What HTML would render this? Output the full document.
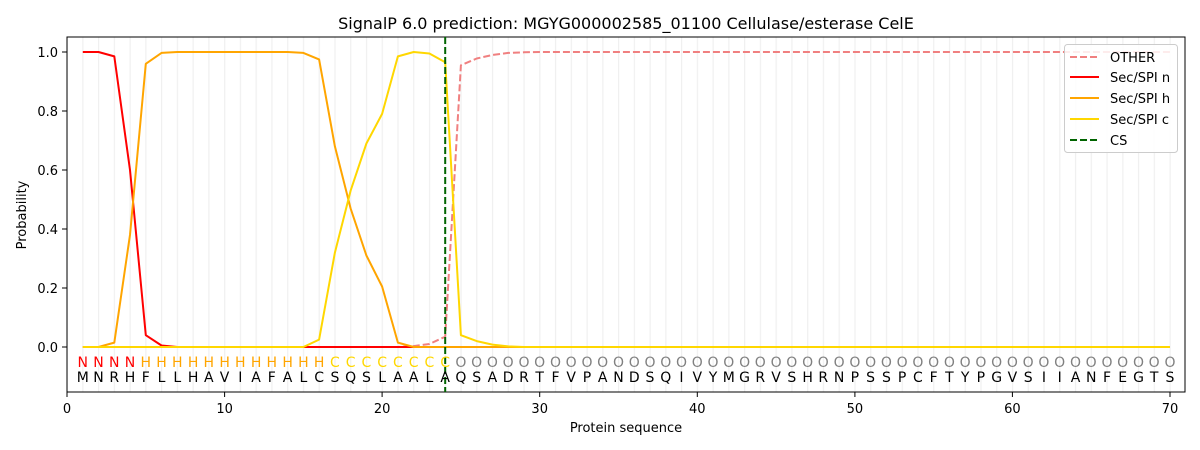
<!DOCTYPE html>
<html><head><meta charset="utf-8"><style>
html,body{margin:0;padding:0;background:#fff}
svg{display:block;font-family:"DejaVu Sans","Liberation Sans",sans-serif}
</style></head><body>
<svg width="1200" height="450" viewBox="0 0 1200 450" xmlns="http://www.w3.org/2000/svg">
<defs>
<pattern id="g" x="82.257" y="0" width="15.757" height="450" patternUnits="userSpaceOnUse">
<rect x="0" y="0" width="1.2" height="450" fill="#f0f0f0"/>
</pattern>
</defs>
<rect x="67" y="37" width="1118" height="355" fill="url(#g)"/>
<rect x="67" y="37" width="1118" height="355" fill="none" stroke="#000" stroke-width="1"/>
<text x="626" y="29" font-size="16" text-anchor="middle">SignalP 6.0 prediction: MGYG000002585_01100 Cellulase/esterase CelE</text>
<g font-size="13" text-anchor="end">
<line x1="62" x2="67" y1="347" y2="347" stroke="#000"/><text x="58" y="352">0.0</text>
<line x1="62" x2="67" y1="288" y2="288" stroke="#000"/><text x="58" y="293">0.2</text>
<line x1="62" x2="67" y1="229" y2="229" stroke="#000"/><text x="58" y="234">0.4</text>
<line x1="62" x2="67" y1="170" y2="170" stroke="#000"/><text x="58" y="175">0.6</text>
<line x1="62" x2="67" y1="111" y2="111" stroke="#000"/><text x="58" y="116">0.8</text>
<line x1="62" x2="67" y1="52" y2="52" stroke="#000"/><text x="58" y="57">1.0</text>
</g>
<text x="26" y="215" font-size="13" text-anchor="middle" transform="rotate(-90 26 215)">Probability</text>
<g font-size="13" text-anchor="middle">
<line x1="67" x2="67" y1="392" y2="397" stroke="#000"/><text x="67" y="413">0</text>
<line x1="224.6" x2="224.6" y1="392" y2="397" stroke="#000"/><text x="224.6" y="413">10</text>
<line x1="382.1" x2="382.1" y1="392" y2="397" stroke="#000"/><text x="382.1" y="413">20</text>
<line x1="539.7" x2="539.7" y1="392" y2="397" stroke="#000"/><text x="539.7" y="413">30</text>
<line x1="697.3" x2="697.3" y1="392" y2="397" stroke="#000"/><text x="697.3" y="413">40</text>
<line x1="854.9" x2="854.9" y1="392" y2="397" stroke="#000"/><text x="854.9" y="413">50</text>
<line x1="1012.4" x2="1012.4" y1="392" y2="397" stroke="#000"/><text x="1012.4" y="413">60</text>
<line x1="1170" x2="1170" y1="392" y2="397" stroke="#000"/><text x="1170" y="413">70</text>
<text x="626" y="432">Protein sequence</text>
</g>
<g fill="none" stroke-width="2" stroke-linejoin="round">
<polyline stroke="#f08080" stroke-dasharray="7,3" points="82.8,347 397.9,347 413.7,346.1 429.4,344 445.2,336.7 460.9,65.3 476.7,58.5 492.4,55 508.2,52.9 524,52.3 539.7,52 1170,52"/>
<polyline stroke="#ff0000" points="82.8,52 98.5,52 114.3,56.4 130,170 145.8,335.2 161.5,345.5 177.3,347 1170,347"/>
<polyline stroke="#ffa500" points="82.8,347 98.5,347 114.3,342.6 130,234.9 145.8,63.8 161.5,52.9 177.3,52 287.6,52 303.4,52.9 319.1,59.4 334.9,146.4 350.6,208.4 366.4,255.5 382.1,286.5 397.9,342.6 413.7,347 1170,347"/>
<polyline stroke="#ffd700" points="82.8,347 303.4,347 319.1,339.6 334.9,252.6 350.6,190.7 366.4,143.5 382.1,113.9 397.9,56.4 413.7,52 429.4,53.5 445.2,62.3 460.9,335.2 476.7,341.1 492.4,344.6 508.2,346.4 524,347 1170,347"/>
<line x1="445.2" x2="445.2" y1="37" y2="392" stroke="#006400" stroke-dasharray="7,3"/>
</g>
<g font-size="14" text-anchor="middle">
<text y="367" fill="#ff0000" x="82.8 98.5 114.3 130">NNNN</text>
<text y="367" fill="#ffa500" x="145.8 161.5 177.3 193.1 208.8 224.6 240.3 256.1 271.8 287.6 303.4 319.1">HHHHHHHHHHHH</text>
<text y="367" fill="#ffd700" x="334.9 350.6 366.4 382.1 397.9 413.7 429.4 445.2">CCCCCCCC</text>
<text y="367" fill="#808080" x="460.9 476.7 492.4 508.2 524 539.7 555.5 571.2 587 602.7 618.5 634.3 650 665.8 681.5 697.3 713 728.8 744.6 760.3 776.1 791.8 807.6 823.3 839.1 854.9 870.6 886.4 902.1 917.9 933.6 949.4 965.2 980.9 996.7 1012.4 1028.2 1043.9 1059.7 1075.5 1091.2 1107 1122.7 1138.5 1154.2 1170">OOOOOOOOOOOOOOOOOOOOOOOOOOOOOOOOOOOOOOOOOOOOOO</text>
<text y="382" fill="#000" x="82.8 98.5 114.3 130 145.8 161.5 177.3 193.1 208.8 224.6 240.3 256.1 271.8 287.6 303.4 319.1 334.9 350.6 366.4 382.1 397.9 413.7 429.4 445.2 460.9 476.7 492.4 508.2 524 539.7 555.5 571.2 587 602.7 618.5 634.3 650 665.8 681.5 697.3 713 728.8 744.6 760.3 776.1 791.8 807.6 823.3 839.1 854.9 870.6 886.4 902.1 917.9 933.6 949.4 965.2 980.9 996.7 1012.4 1028.2 1043.9 1059.7 1075.5 1091.2 1107 1122.7 1138.5 1154.2 1170">MNRHFLLHAVIAFALCSQSLAALAQSADRTFVPANDSQIVYMGRVSHRNPSSPCFTYPGVSIIANFEGTS</text>
</g>
<rect x="1064.5" y="44.5" width="113" height="108" rx="3" fill="#fff" fill-opacity="0.85" stroke="#ccc"/>
<g stroke-width="2">
<line x1="1070" x2="1099" y1="57" y2="57" stroke="#f08080" stroke-dasharray="7,3"/>
<line x1="1070" x2="1099" y1="77" y2="77" stroke="#ff0000"/>
<line x1="1070" x2="1099" y1="98" y2="98" stroke="#ffa500"/>
<line x1="1070" x2="1099" y1="119" y2="119" stroke="#ffd700"/>
<line x1="1070" x2="1099" y1="140" y2="140" stroke="#006400" stroke-dasharray="7,3"/>
</g>
<g font-size="13">
<text x="1110" y="62">OTHER</text>
<text x="1110" y="82">Sec/SPI n</text>
<text x="1110" y="103">Sec/SPI h</text>
<text x="1110" y="124">Sec/SPI c</text>
<text x="1110" y="145">CS</text>
</g>
</svg>
</body></html>
